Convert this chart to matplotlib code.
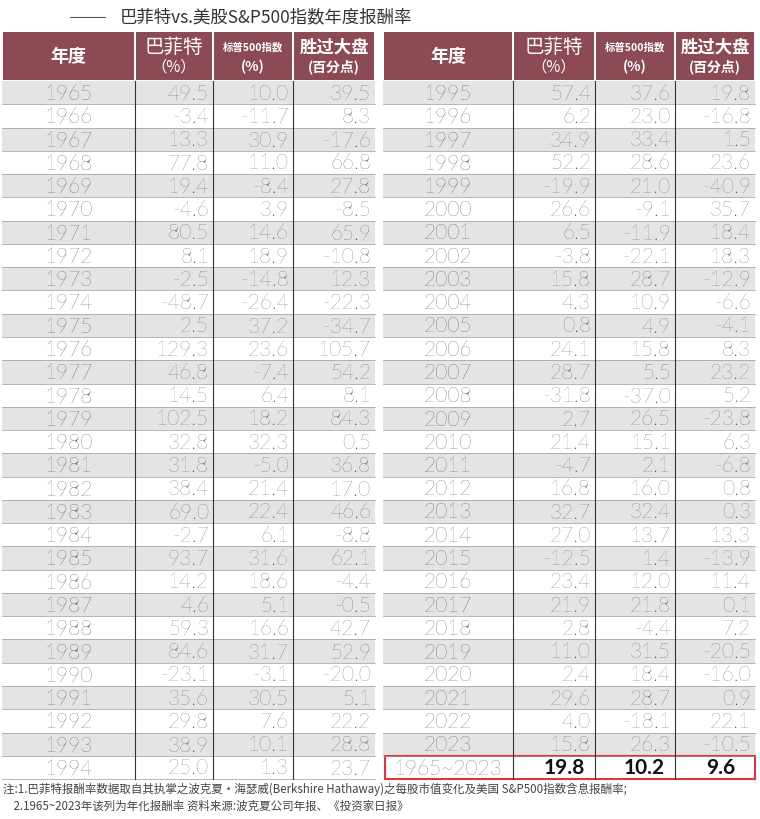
import matplotlib.pyplot as plt
from matplotlib import font_manager
from matplotlib.patches import Rectangle

# find an installed CJK font
cjk = "Noto Sans CJK SC"
names = sorted({f.name for f in font_manager.fontManager.ttflist})
for nm in ["Noto Sans CJK SC", "Noto Sans CJK JP", "Noto Sans CJK TC", "Noto Sans CJK KR"]:
    if nm in names:
        cjk = nm
        break
else:
    for nm in names:
        if "CJK" in nm:
            cjk = nm
            break
plt.rcParams["font.family"] = [cjk, "DejaVu Sans"]
NUMF = "Lato" if "Lato" in names else cjk

years = list(range(1965, 2024))
buffett = [49.5, -3.4, 13.3, 77.8, 19.4, -4.6, 80.5, 8.1, -2.5, -48.7,
           2.5, 129.3, 46.8, 14.5, 102.5, 32.8, 31.8, 38.4, 69.0, -2.7,
           93.7, 14.2, 4.6, 59.3, 84.6, -23.1, 35.6, 29.8, 38.9, 25.0,
           57.4, 6.2, 34.9, 52.2, -19.9, 26.6, 6.5, -3.8, 15.8, 4.3,
           0.8, 24.1, 28.7, -31.8, 2.7, 21.4, -4.7, 16.8, 32.7, 27.0,
           -12.5, 23.4, 21.9, 2.8, 11.0, 2.4, 29.6, 4.0, 15.8]
sp500 = [10.0, -11.7, 30.9, 11.0, -8.4, 3.9, 14.6, 18.9, -14.8, -26.4,
         37.2, 23.6, -7.4, 6.4, 18.2, 32.3, -5.0, 21.4, 22.4, 6.1,
         31.6, 18.6, 5.1, 16.6, 31.7, -3.1, 30.5, 7.6, 10.1, 1.3,
         37.6, 23.0, 33.4, 28.6, 21.0, -9.1, -11.9, -22.1, 28.7, 10.9,
         4.9, 15.8, 5.5, -37.0, 26.5, 15.1, 2.1, 16.0, 32.4, 13.7,
         1.4, 12.0, 21.8, -4.4, 31.5, 18.4, 28.7, -18.1, 26.3]
beat = [39.5, 8.3, -17.6, 66.8, 27.8, -8.5, 65.9, -10.8, 12.3, -22.3,
        -34.7, 105.7, 54.2, 8.1, 84.3, 0.5, 36.8, 17.0, 46.6, -8.8,
        62.1, -4.4, -0.5, 42.7, 52.9, -20.0, 5.1, 22.2, 28.8, 23.7,
        19.8, -16.8, 1.5, 23.6, -40.9, 35.7, 18.4, 18.3, -12.9, -6.6,
        -4.1, 8.3, 23.2, 5.2, -23.8, 6.3, -6.8, 0.8, 0.3, 13.3,
        -13.9, 11.4, 0.1, 7.2, -20.5, -16.0, 0.9, 22.1, -10.5]
summary = ["1965~2023", "19.8", "10.2", "9.6"]

title = "巴菲特vs.美股S&P500指数年度报酬率"
note1 = "注:1.巴菲特报酬率数据取自其执掌之波克夏・海瑟威(Berkshire Hathaway)之每股市值变化及美国 S&P500指数含息报酬率;"
note2 = "    2.1965~2023年该列为年化报酬率 资料来源:波克夏公司年报、《投资家日报》"

HEAD = "#8c4a55"
GRAY = "#e4e4e4"
TXT = "#222222"

fig = plt.figure(figsize=(7.6, 8.19), dpi=100)
ax = fig.add_axes([0, 0, 1, 1])
ax.set_xlim(0, 760)
ax.set_ylim(819, 0)
ax.axis("off")

ax.plot([70, 105], [17, 17], color="#555555", lw=0.8)
ax.text(120, 17, title, fontsize=12.5, va="center", color="#333333")

top, head_h, row_h = 32, 49, 23.27
tables = [(2, [2, 135, 213, 293, 375], 0, 30), (383, [383, 513, 595, 675, 755], 30, 29)]

for x0, cols, start, n in tables:
    for c in range(4):
        ax.add_patch(Rectangle((cols[c] + 1, top), cols[c + 1] - cols[c] - 2, head_h - 1,
                               color=HEAD, lw=0))
    cx = [(cols[i] + cols[i + 1]) / 2 for i in range(4)]
    ax.text(cx[0], top + head_h / 2, "年度", color="white", fontsize=13, weight="bold",
            ha="center", va="center")
    ax.text(cx[1], top + 15, "巴菲特", color="white", fontsize=14, ha="center", va="center")
    ax.text(cx[1], top + 35, "（%）", color="white", fontsize=11, ha="center", va="center")
    ax.text(cx[2], top + 15, "标普500指数", color="white", fontsize=7.5, weight="bold",
            ha="center", va="center")
    ax.text(cx[2], top + 35, "(%)", color="white", fontsize=10, weight="bold", ha="center", va="center")
    ax.text(cx[3], top + 15, "胜过大盘", color="white", fontsize=12.5, weight="bold",
            ha="center", va="center")
    ax.text(cx[3], top + 35, "(百分点)", color="white", fontsize=10, weight="bold",
            ha="center", va="center")
    y = top + head_h
    for i in range(n):
        k = start + i
        if i % 2 == 0:
            ax.add_patch(Rectangle((cols[0], y), cols[4] - cols[0], row_h, color=GRAY, lw=0))
        ax.plot([cols[0], cols[4]], [y + row_h, y + row_h], color="#9a9a9a", lw=0.5)
        yc = y + row_h / 2 + 1
        ax.text(cx[0], yc, str(years[k]), fontsize=15, ha="center", va="center",
                color=TXT, family=NUMF, weight="light")
        for c, v in zip((1, 2, 3), (buffett[k], sp500[k], beat[k])):
            ax.text(cols[c + 1] - 4, yc, f"{v:.1f}", fontsize=15, ha="right", va="center",
                    color="#444444", family=NUMF, weight="light")
        y += row_h
    if n == 29:
        yc = y + row_h / 2 + 1
        ax.text(cx[0], yc, summary[0], fontsize=15, ha="center", va="center", color=TXT,
                family=NUMF, weight="light")
        for c in (1, 2, 3):
            ax.text(cols[c + 1] - 10 if c < 3 else cols[c + 1] - 20, yc, summary[c],
                    fontsize=15, ha="right", va="center", color="#111111", weight="bold",
                    family=NUMF)
        ax.add_patch(Rectangle((cols[0] + 2, y), cols[4] - cols[0] - 2, row_h,
                               fill=False, ec="#d9363e", lw=1.5))
        y += row_h
    for c in (1, 2, 3):
        ax.plot([cols[c], cols[c]], [top + head_h, y], color="#333333", lw=0.8)

ax.text(3, 789, note1, fontsize=8.3, va="center", color="#444444")
ax.text(3, 806, note2, fontsize=8.3, va="center", color="#444444")

fig.savefig("out.png", dpi=100)
